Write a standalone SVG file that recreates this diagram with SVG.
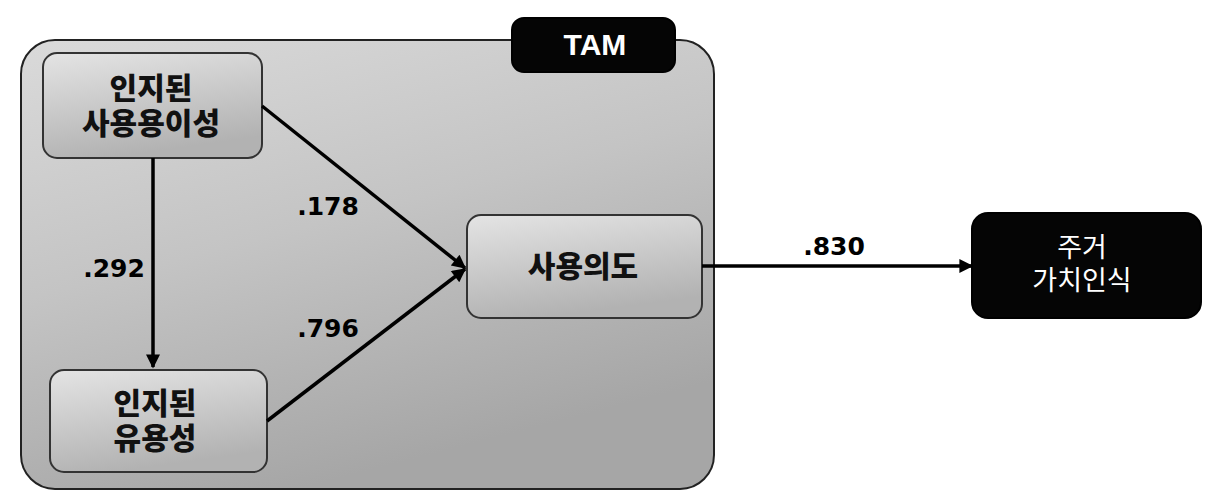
<svg xmlns="http://www.w3.org/2000/svg" width="1208" height="492" viewBox="0 0 1208 492">
<defs>
<linearGradient id="gBox" x1="0" y1="0" x2="0.3" y2="1">
<stop offset="0" stop-color="#e4e4e4"/>
<stop offset="1" stop-color="#b2b2b2"/>
</linearGradient>
<linearGradient id="gOuter" x1="0" y1="0" x2="0.4" y2="1">
<stop offset="0" stop-color="#dadada"/>
<stop offset="0.5" stop-color="#c4c4c4"/>
<stop offset="1" stop-color="#a6a6a6"/>
</linearGradient>
<marker id="arrB" viewBox="0 0 10 10" refX="9" refY="5" markerWidth="16" markerHeight="14" markerUnits="userSpaceOnUse" orient="auto">
<path d="M0,0 L10,5 L0,10 z" fill="#000"/>
</marker>
</defs>
<style>
.node{fill:url(#gBox);stroke:#333;stroke-width:2}
.dark{fill:#050505;stroke:#000;stroke-width:2}
.kt{font-family:"Noto Sans CJK KR","Noto Sans",sans-serif;font-weight:900;font-size:30px;fill:#111;text-anchor:middle}
.kw{font-family:"Noto Sans CJK KR","Noto Sans",sans-serif;font-weight:normal;font-size:27px;fill:#fff;text-anchor:middle}
.num{font-family:"DejaVu Sans",Verdana,sans-serif;font-weight:bold;font-size:25px;fill:#000;text-anchor:middle}
.ln{stroke:#000;stroke-width:3.5;fill:none}
</style>
<rect width="1208" height="492" fill="#fff"/>
<g id="tam-container">
<rect x="21" y="40" width="693" height="449" rx="34" fill="url(#gOuter)" stroke="#222" stroke-width="2"/>
</g>
<g id="tam-label">
<rect x="512" y="18" width="163" height="54" rx="12" class="dark"/>
<text x="595" y="55" font-family="Liberation Sans,Arial,sans-serif" font-weight="bold" font-size="30" fill="#fff" text-anchor="middle">TAM</text>
</g>
<g id="node-ease">
<rect x="43" y="53" width="219" height="105" rx="14" class="node"/>
<text class="kt"><tspan x="151" y="99">인지된</tspan><tspan x="151" y="134">사용용이성</tspan></text>
</g>
<g id="node-useful">
<rect x="50" y="370" width="217" height="102" rx="14" class="node"/>
<text class="kt"><tspan x="155" y="414">인지된</tspan><tspan x="155" y="449">유용성</tspan></text>
</g>
<g id="node-intent">
<rect x="467" y="215" width="235" height="103" rx="14" class="node"/>
<text x="583" y="277" class="kt">사용의도</text>
</g>
<g id="node-value">
<rect x="972" y="213" width="229" height="105" rx="16" class="dark"/>
<text class="kw"><tspan x="1082" y="257">주거</tspan><tspan x="1082" y="290">가치인식</tspan></text>
</g>
<g id="connectors">
<line x1="153" y1="158" x2="153" y2="367" class="ln" stroke-width="3" marker-end="url(#arrB)"/>
<line x1="262" y1="106" x2="465" y2="268" class="ln" marker-end="url(#arrB)"/>
<line x1="267" y1="421" x2="465" y2="269" class="ln" marker-end="url(#arrB)"/>
<line x1="702" y1="266" x2="972" y2="266" class="ln" marker-end="url(#arrB)"/>
</g>
<g id="labels">
<text x="328" y="215" class="num">.178</text>
<text x="114" y="277" class="num">.292</text>
<text x="328" y="337" class="num">.796</text>
<text x="834" y="255" class="num">.830</text>
</g>
</svg>
